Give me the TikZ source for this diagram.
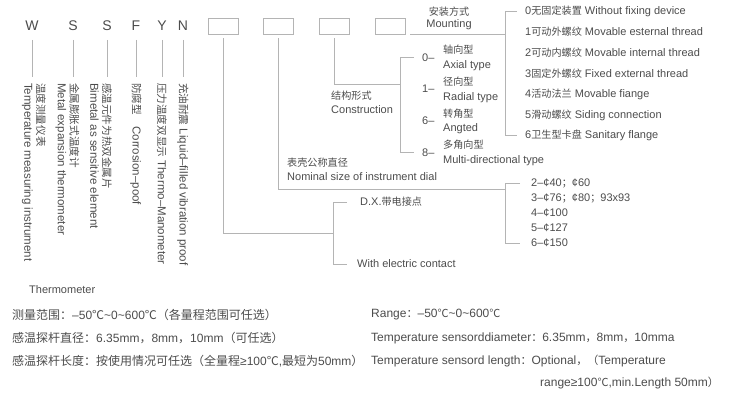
\documentclass[tikz,border=0pt]{standalone}
\usepackage{fontspec}
\setmainfont{Liberation Sans}
\newfontfamily\cjk[Scale=0.92]{Noto Sans CJK SC}
\newfontfamily\cjkb{Noto Sans CJK SC}
\newcommand{\zhs}[1]{{\cjk #1}}
\newcommand{\zhb}[1]{{\cjkb #1}}
\usetikzlibrary{positioning, calc}
\definecolor{txtgray}{HTML}{4C4C4C}
\definecolor{linegray}{HTML}{B4B4B4}

\begin{document}
\begin{tikzpicture}[x=1pt, y=-1pt,
    every node/.style={text=txtgray, inner sep=0pt},
    letter/.style={font=\fontsize{14}{14}\selectfont, anchor=base},
    vlabel/.style={rotate=-90, anchor=west, align=left, font=\fontsize{11.5}{12.5}\selectfont},
    codebox/.style={draw=linegray, line width=0.8pt, minimum width=30pt, minimum height=16pt},
    lbl/.style={anchor=west, align=left, font=\fontsize{11}{14.5}\selectfont},
    item/.style={anchor=west, font=\fontsize{11}{13}\selectfont},
    spec/.style={anchor=west, font=\fontsize{12}{14}\selectfont},
    ln/.style={draw=linegray, line width=0.8pt},
]
\useasboundingbox (0,0) rectangle (750,401);

% Model code letters with their ticks
\foreach \name/\ch/\x in {wl/W/32, sl/S/73, ssl/S/107, fl/F/136, yl/Y/162, nl/N/183} {
    \node[letter] (\name) at (\x,31) {\ch};
    \coordinate (\name end) at (\x,77);
    \draw[ln] ([yshift=-9pt]\name.base) -- (\name end);
}

% Vertical descriptions
\node[vlabel] (wtxt) at (34,83) {\zhs{温度测量仪表}\\Temperature measuring instrument};
\node[vlabel] (stxt) at (67.5,83) {\zhs{金属膨胀式温度计}\\Metal expansion thermometer};
\node[vlabel] (sstxt) at (101,83) {\zhs{感温元件为热双金属片}\\Bimetal as sensitive element};
\node[vlabel] (ftxt) at (136,83) {\zhs{防腐型}\quad Corrosion–poof};
\node[vlabel] (ytxt) at (162,83) {\zhs{压力温度双显示} Thermo–Manometer};
\node[vlabel] (ntxt) at (183,83) {\zhs{充油耐震} Liquid–filled vibration proof};

\node[item] (thermo) at (29,290) {Thermometer};

% Empty code boxes
\node[codebox] (dx) at (223,26) {};
\node[codebox] (dial) at (278.5,26) {};
\node[codebox] (cons) at (334,26) {};
\node[codebox] (mount) at (390,26) {};

% Mounting
\node[align=center, font=\fontsize{11}{11.5}\selectfont] (mounttxt) at (449,18.5) {\zhs{安装方式}\\Mounting};
\foreach \i/\zhtxt/\entxt in {0/无固定装置/Without fixing device, 1/可动外螺纹/Movable esternal thread,
    2/可动内螺纹/Movable internal thread, 3/固定外螺纹/Fixed external thread, 4/活动法兰/Movable fiange,
    5/滑动螺纹/Siding connection, 6/卫生型卡盘/Sanitary flange} {
    \node[item] (m\i) at (525,11+\i*20.8) {\i\zhs{\zhtxt} \entxt};
}
\coordinate (mspine) at (505,0);
\draw[ln] ([xshift=-8pt]m0.west) -- (m0.west -| mspine) -- (m6.west -| mspine) -- ([xshift=-8pt]m6.west);
\draw[ln] ([xshift=5pt]mount.south east) -- (mount.south east -| mspine);

% Construction
\node[lbl] (constxt) at (331,102.5) {\zhs{结构形式}\\Construction};
\foreach \i/\num/\zhtxt/\entxt in {0/0/轴向型/Axial type, 1/1/径向型/Radial type,
    2/6/转角型/Angted, 3/8/多角向型/Multi-directional type} {
    \node[item] (c\num) at (422,57.5+\i*31.7) {\num–};
    \node[lbl] (c\num txt) at (443,58+\i*31.7) {\zhs{\zhtxt}\\\entxt};
}
\coordinate (cspine) at (400,0);
\coordinate (cjoin) at (400,84);
\draw[ln] ([xshift=-8pt]c0.west) -- (c0.west -| cspine) -- (c8.west -| cspine) -- ([xshift=-8pt]c8.west);
\draw[ln] ([yshift=-4pt]cons.south) |- (cjoin);

% Dial size
\node[lbl] (dialtxt) at (287,169.5) {\zhs{表壳公称直径}\\Nominal size of instrument dial};
\foreach \i/\txt in {0/{2–¢40\zhs{；}¢60}, 1/{3–¢76\zhs{；}¢80\zhs{；}93x93},
    2/{4–¢100}, 3/{5–¢127}, 4/{6–¢150}} {
    \node[item] (d\i) at (531,183+\i*15) {\txt};
}
\coordinate (dspine) at (505,0);
\coordinate (djoin) at (505,189);
\draw[ln] ([xshift=-11pt]d0.west) -- (d0.west -| dspine) -- (d4.west -| dspine) -- ([xshift=-11pt]d4.west);
\draw[ln] ([yshift=-4pt]dial.south) |- (djoin);

% Electric contact
\node[item] (dxtop) at (360,202) {D.X.\zhs{带电接点}};
\node[item] (dxbot) at (357,264) {With electric contact};
\coordinate (espine) at (333,0);
\coordinate (ejoin) at (333,233);
\draw[ln] ([xshift=-13pt]dxtop.west) -- (dxtop.west -| espine) -- (dxbot.west -| espine) -- ([xshift=-10pt]dxbot.west);
\draw[ln] ([yshift=-4pt]dx.south) |- (ejoin);

% Specifications
\node[spec] (rangecn) at (12,315) {\zhb{测量范围：}–50\zhb{℃}\textasciitilde 0\textasciitilde 600\zhb{℃（各量程范围可任选）}};
\node[spec] (diacn) at (12,338) {\zhb{感温探杆直径：}6.35mm\zhb{，}8mm\zhb{，}10mm\zhb{（可任选）}};
\node[spec] (lencn) at (12,361) {\zhb{感温探杆长度：按使用情况可任选（全量程}≥100\zhb{℃},\zhb{最短为}50mm\zhb{）}};
\node[spec] (rangeen) at (371,315) {Range\zhs{：}–50\zhs{℃}\textasciitilde 0\textasciitilde 600\zhs{℃}};
\node[spec] (diaen) at (371,338) {Temperature sensorddiameter\zhs{：}6.35mm\zhs{，}8mm\zhs{，}10mma};
\node[spec] (lenen) at (371,361) {Temperature sensord length\zhs{：}Optional\zhs{，（}Temperature};
\node[spec] (lenen2) at (540,383) {range≥100\zhs{℃},min.Length 50mm\zhs{）}};

\end{tikzpicture}
\end{document}
